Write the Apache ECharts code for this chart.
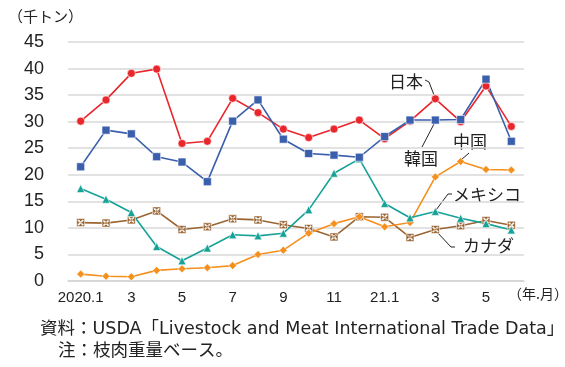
<!DOCTYPE html>
<html><head><meta charset="utf-8">
<script src="https://cdn.jsdelivr.net/npm/echarts@6/dist/echarts.min.js"></script>
<style>html,body{margin:0;padding:0;background:#fff}#c{width:565px;height:367px}</style>
</head><body><div id="c"></div>
<script>
const categories = ['2020.1','2','3','4','5','6','7','8','9','10','11','12','21.1','2','3','4','5','6'];
const japan  = [30.1,34.1,39.1,39.9,25.9,26.3,34.4,31.7,28.6,27.0,28.6,30.3,26.8,30.1,34.3,30.0,36.7,29.1];
const korea  = [21.5,28.4,27.7,23.4,22.4,18.7,30.1,34.1,26.7,24.0,23.7,23.3,27.2,30.3,30.3,30.4,38.0,26.3];
const mexico = [17.4,15.4,12.9,6.5,3.8,6.2,8.7,8.5,9.0,13.4,20.3,23.0,14.6,11.9,13.1,11.8,10.8,9.6];
const china  = [1.3,0.9,0.8,2.0,2.3,2.5,2.9,5.0,5.8,9.0,10.8,12.1,10.2,11.0,19.6,22.5,21.0,20.9];
const canada = [11.0,10.9,11.5,13.2,9.7,10.2,11.7,11.5,10.6,9.9,8.3,12.1,12.0,8.2,9.7,10.4,11.4,10.5];
const yTicks = [0,5,10,15,20,25,30,35,40,45];

const crossBox = 'path://M0 0L100 0L100 100L0 100Z M40 50L15 75L25 85L50 60L75 85L85 75L60 50L85 25L75 15L50 40L25 15L15 25Z';
const FONT = '"Liberation Sans", Arial, "Noto Sans CJK JP", sans-serif';
const WFONT = '"DejaVu Sans", "Noto Sans CJK JP", sans-serif';
const JFONT = '"Noto Sans CJK JP", sans-serif';

function mk(name, data, color, symbol, size) {
  return {
    name, type: 'line', data, symbol, symbolSize: size, z: 3,
    lineStyle: {color, width: 1.6},
    itemStyle: {color, borderColor: '#fff', borderWidth: 0.6},
    animation: false
  };
}

const chart = echarts.init(document.getElementById('c'), null, {renderer: 'canvas'});
chart.setOption({
  animation: false,
  grid: {left: 68, right: 41, top: 42, bottom: 86, containLabel: false},
  xAxis: {
    type: 'category', data: categories, boundaryGap: true,
    axisLine: {lineStyle: {color: '#d4d4d4', width: 1.5}},
    axisTick: {show: false},
    axisLabel: {interval: 1, color: '#222', fontSize: 15, fontFamily: FONT, margin: 9}
  },
  yAxis: {
    type: 'value', min: yTicks[0], max: yTicks[yTicks.length-1], interval: 5,
    axisLine: {show: false}, axisTick: {show: false},
    splitLine: {lineStyle: {color: '#d9d9d9', width: 1.5}},
    axisLabel: {color: '#222', fontSize: 18, fontFamily: FONT, margin: 24}
  },
  series: [
    mk('カナダ', canada, '#9a6532', crossBox, 8),
    mk('中国', china, '#f5901f', 'diamond', 8),
    mk('メキシコ', mexico, '#16a297', 'triangle', 8),
    mk('日本', japan, '#e8262c', 'circle', 8),
    mk('韓国', korea, '#3a5fad', 'rect', 8)
  ],
  graphic: [
    {type: 'text', left: 8, top: 9, style: {text: '（千トン）', font: '15px ' + JFONT, fill: '#222'}},
    {type: 'text', left: 508, top: 287, style: {text: '（年.月）', font: '14px ' + JFONT, fill: '#222'}},
    {type: 'text', left: 40, top: 321, style: {text: '資料：USDA「Livestock and Meat International Trade Data」', font: '17.5px ' + WFONT, fill: '#222'}},
    {type: 'text', left: 58, top: 341, style: {text: '注：枝肉重量ベース。', font: '17.5px ' + JFONT, fill: '#222'}},
    {type: 'text', x: 389, y: 82, style: {text: '日本', font: '17px ' + JFONT, fill: '#222', verticalAlign: 'middle'}},
    {type: 'text', x: 404, y: 159, style: {text: '韓国', font: '17px ' + JFONT, fill: '#222', verticalAlign: 'middle'}},
    {type: 'text', x: 453, y: 142, style: {text: '中国', font: '17px ' + JFONT, fill: '#222', verticalAlign: 'middle'}},
    {type: 'text', x: 453, y: 195, style: {text: 'メキシコ', font: '17px ' + JFONT, fill: '#222', verticalAlign: 'middle'}},
    {type: 'text', x: 463, y: 246, style: {text: 'カナダ', font: '17px ' + JFONT, fill: '#222', verticalAlign: 'middle'}},
    {type: 'polyline', shape: {points: [[425,80],[429,82],[434,95]]}, style: {stroke: '#222', lineWidth: 1, fill: null}},
    {type: 'line', shape: {x1: 422, y1: 147, x2: 434, y2: 124}, style: {stroke: '#222', lineWidth: 1}},
    {type: 'line', shape: {x1: 469, y1: 153, x2: 461, y2: 160}, style: {stroke: '#222', lineWidth: 1}},
    {type: 'polyline', shape: {points: [[452,194],[448,194],[436,210]]}, style: {stroke: '#222', lineWidth: 1, fill: null}},
    {type: 'polyline', shape: {points: [[455,247],[451,247],[436,231]]}, style: {stroke: '#222', lineWidth: 1, fill: null}}
  ]
});
</script></body></html>
